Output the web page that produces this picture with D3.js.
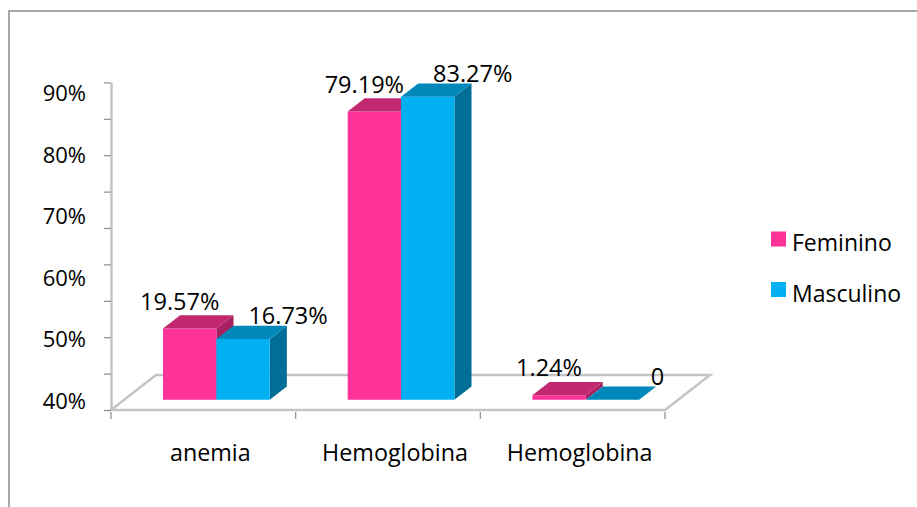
<!DOCTYPE html>
<html>
<head>
<meta charset="utf-8">
<script src="https://cdn.jsdelivr.net/npm/d3@7"></script>
<style>
  html, body { margin: 0; padding: 0; background: #fff; }
  svg { display: block; }
  text { font-family: "Open Sans", sans-serif; fill: #000; }
</style>
</head>
<body>
<svg id="chart" width="917" height="507"></svg>
<script>
// ---- data ----
const categories = ["anemia", "Hemoglobina", "Hemoglobina"];
const seriesNames = ["Feminino", "Masculino"];
const feminino = [19.57, 79.19, 1.24];
const masculino = [16.73, 83.27, 0];
const femininoLabels = ["19.57%", "79.19%", "1.24%"];
const masculinoLabels = ["16.73%", "83.27%", "0"];
const yTickLabels = ["90%", "80%", "70%", "60%", "50%", "40%"];
const yTickLabelValues = [90, 80, 70, 60, 50, 40];
const axisTicks = [0, 10, 20, 30, 40, 50, 60, 70, 80, 90];

// ---- styles / layout ----
const W = 917, H = 507;
const colors = {
  Feminino: { front: "#FF3399", top: "#C2286F", side: "#A8205F" },
  Masculino: { front: "#00B0F0", top: "#0088BA", side: "#006E96" }
};
const DX = 45, DY = 35;          // floor depth projection
const F0 = 0.29, F1 = 0.67;      // bar depth fractions (front, back)

const svg = d3.select("#chart");

// border
svg.append("path")
  .attr("d", `M9,${H} L9,11 L${W},11`)
  .attr("fill", "none").attr("stroke", "#8a8a8a").attr("stroke-width", 1.5);

const x = d3.scaleBand().domain(d3.range(categories.length)).range([111, 665]);
const xInner = d3.scaleBand().domain(seriesNames).range([0, x.bandwidth()])
  .paddingInner(0).paddingOuter(0.73);
const y = d3.scaleLinear().domain([0, 90]).range([410, 82.4]);
const yLab = d3.scaleLinear().domain([40, 90]).range([400, 92]);

const proj = (px, py, f) => [px + f * DX, py - f * DY];
const poly = pts => "M" + pts.map(p => p.join(",")).join("L") + "Z";

// floor
const y0 = y(0);
const x0 = x.range()[0], x1 = x.range()[1];
svg.append("path")
  .attr("d", `M${x0},${y0} L${x1},${y0} L${x1 + DX},${y0 - DY} L${x0 + DX},${y0 - DY} Z`)
  .attr("fill", "none").attr("stroke", "#c4c4c4").attr("stroke-width", 2.5)
  .attr("stroke-linejoin", "miter");

// vertical axis (ticks only, front plane)
const yAxis = d3.axisLeft(y).tickValues(axisTicks).tickFormat("").tickSize(7).tickSizeOuter(0);
const yG = svg.append("g").attr("transform", `translate(${x0},0)`).call(yAxis);
yG.select(".domain").attr("stroke", "#c4c4c4").attr("stroke-width", 2.5);
yG.selectAll(".tick line").attr("stroke", "#8c8c8c").attr("stroke-width", 1.2);

// x axis category boundary ticks
const boundaries = d3.range(categories.length + 1).map(i => i < categories.length ? x(i) : x1);
svg.append("g").selectAll("line").data(boundaries).join("line")
  .attr("x1", d => d).attr("x2", d => d)
  .attr("y1", y0 + 2).attr("y2", y0 + 9)
  .attr("stroke", "#8c8c8c").attr("stroke-width", 1.2);

// y labels
svg.append("g").selectAll("text").data(yTickLabelValues).join("text")
  .attr("x", 86).attr("y", d => yLab(d))
  .attr("text-anchor", "end").attr("dominant-baseline", "central")
  .style("font-size", "22px")
  .text((d, i) => yTickLabels[i]);

// category labels
svg.append("g").selectAll("text").data(categories).join("text")
  .attr("x", (d, i) => x(i) + x.bandwidth() / 2 + 7).attr("y", 452)
  .attr("text-anchor", "middle").attr("dominant-baseline", "central")
  .style("font-size", "23.3px")
  .text(d => d);

// bars
const seriesData = { Feminino: feminino, Masculino: masculino };
const seriesLabels = { Feminino: femininoLabels, Masculino: masculinoLabels };
const labelDx = { Feminino: -10, Masculino: 45 };
const labelDy = { Feminino: -28, Masculino: -24 };
const barsG = svg.append("g");
const labelsG = svg.append("g");

categories.forEach((c, i) => {
  seriesNames.forEach(s => {
    const v = seriesData[s][i];
    const bx0 = x(i) + xInner(s);
    const bx1 = bx0 + xInner.bandwidth();
    const yb = y(0), yt = y(v);
    const fbl = proj(bx0, yb, F0), fbr = proj(bx1, yb, F0);
    const ftl = proj(bx0, yt, F0), ftr = proj(bx1, yt, F0);
    const btl = proj(bx0, yt, F1), btr = proj(bx1, yt, F1);
    const bbr = proj(bx1, yb, F1);
    const col = colors[s];
    barsG.append("path").attr("d", poly([fbr, ftr, btr, bbr])).attr("fill", col.side);
    barsG.append("path").attr("d", poly([fbl, fbr, ftr, ftl])).attr("fill", col.front);
    barsG.append("path").attr("d", poly([ftl, ftr, btr, btl])).attr("fill", col.top);
    labelsG.append("text")
      .attr("x", (ftl[0] + ftr[0]) / 2 + labelDx[s])
      .attr("y", ftl[1] + labelDy[s])
      .attr("text-anchor", "middle").attr("dominant-baseline", "central")
      .style("font-size", "23.5px")
      .text(seriesLabels[s][i]);
  });
});

// legend
const legend = svg.append("g");
seriesNames.forEach((s, i) => {
  const ly = 239 + i * 50.5;
  legend.append("rect").attr("x", 771).attr("y", ly - 7.5).attr("width", 15).attr("height", 15)
    .attr("fill", colors[s].front);
  legend.append("text").attr("x", 792).attr("y", ly + 3)
    .attr("dominant-baseline", "central").style("font-size", "23px").text(s);
});
</script>
</body>
</html>
